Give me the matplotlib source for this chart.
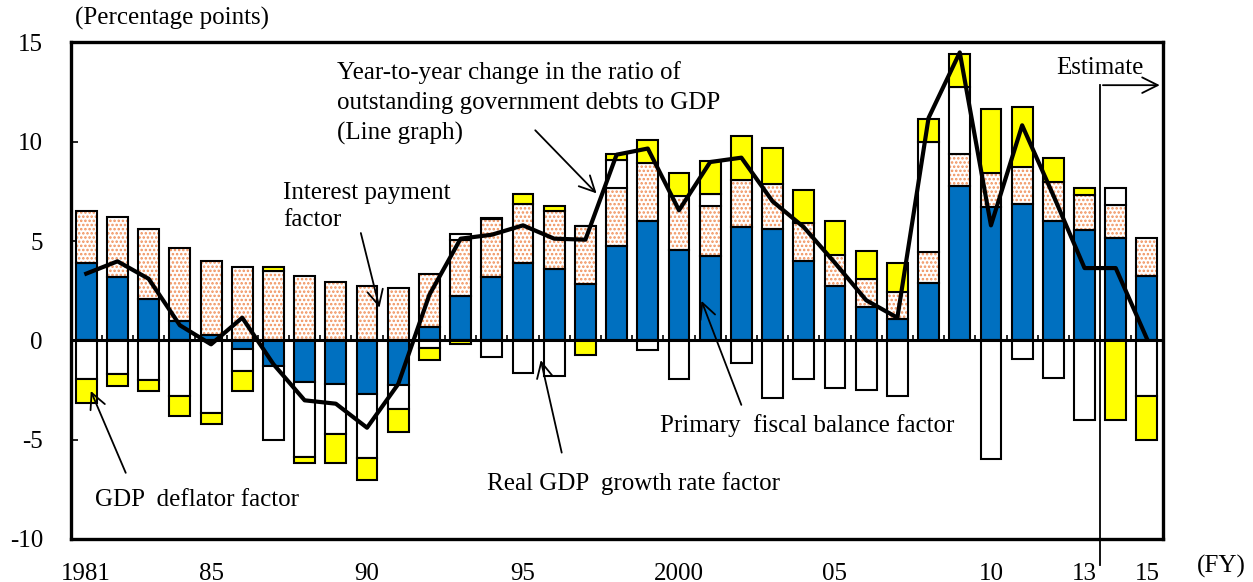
import numpy as np
import matplotlib
matplotlib.use("Agg")
import matplotlib.pyplot as plt

plt.rcParams['font.family'] = ['Liberation Serif', 'DejaVu Serif']
plt.rcParams['hatch.linewidth'] = 1.2
plt.rcParams['axes.unicode_minus'] = False

years = list(range(1981, 2016))
# primary fiscal balance factor (blue)
primary = [3.9, 3.2, 2.07, 0.97, 0.27, -0.45, -1.31, -2.1, -2.22, -2.69,
           -2.27, 0.67, 2.23, 3.19, 3.9, 3.58, 2.82, 4.74, 6.03, 4.57,
           4.27, 5.71, 5.63, 3.98, 2.72, 1.68, 1.09, 2.9, 7.77, 6.72,
           6.88, 6.01, 5.54, 5.15, 3.22]
# interest payment factor (dotted)
interest = [2.6, 3.0, 3.54, 3.68, 3.71, 3.69, 3.49, 3.22, 2.92, 2.72,
            2.64, 2.65, 2.81, 2.91, 2.99, 2.93, 2.92, 2.93, 2.9, 2.7,
            2.52, 2.35, 2.26, 1.93, 1.56, 1.43, 1.34, 1.55, 1.63, 1.73,
            1.85, 1.97, 1.76, 1.65, 1.93]
# real GDP growth rate factor (white)
real_gdp = [-1.93, -1.71, -2.02, -2.82, -3.66, -1.1, -3.69, -3.78, -2.52, -3.22,
            -1.21, -0.37, 0.3, -0.84, -1.63, -1.81, 0.0, 1.4, -0.47, -1.93,
            0.6, -1.12, -2.89, -1.93, -2.39, -2.48, -2.79, 5.54, 3.36, -5.96,
            -0.92, -1.9, -4.03, 0.87, -2.8]
# GDP deflator factor (yellow)
deflator = [-1.23, -0.57, -0.55, -1.01, -0.57, -1.02, 0.2, -0.28, -1.42, -1.11,
            -1.14, -0.63, -0.17, 0.08, 0.5, 0.28, -0.72, 0.33, 1.15, 1.16,
            1.63, 2.23, 1.81, 1.65, 1.73, 1.37, 1.47, 1.16, 1.68, 3.19,
            3.02, 1.22, 0.37, -4.03, -2.2]
# year-to-year change in debt/GDP ratio (line)
debt_change = [3.36, 3.98, 3.1, 0.76, -0.2, 1.14, -1.2, -3.02, -3.19, -4.4,
               -2.2, 2.3, 5.12, 5.32, 5.79, 5.12, 5.07, 9.35, 9.66, 6.55,
               8.98, 9.2, 7.0, 5.7, 3.9, 2.02, 1.14, 11.2, 14.5, 5.79,
               10.83, 7.3, 3.64, 3.64, 0.08]

tick_years = [1981, 1985, 1990, 1995, 2000, 2005, 2010, 2013, 2015]
tick_labels = ['1981', '85', '90', '95', '2000', '05', '10', '13', '15']

x = np.arange(len(years))
w = 0.67

fig = plt.figure(figsize=(12.53, 5.82), dpi=100)
ax = fig.add_axes([0.0564, 0.074, 0.8714, 0.853])

pos_bottom = np.zeros(len(years))
neg_bottom = np.zeros(len(years))
series = [(primary, '#0070C0', None), (interest, 'white', '....'),
          (real_gdp, 'white', None), (deflator, '#FFFF00', None)]
for vals, col, hatch in series:
    v = np.array(vals)
    bottom = np.where(v >= 0, pos_bottom, neg_bottom)
    if hatch:
        ax.bar(x, v, w, bottom=bottom, color='white', edgecolor='#F0905A',
               hatch=hatch, linewidth=0, zorder=2)
        ax.bar(x, v, w, bottom=bottom, facecolor='none', edgecolor='black',
               linewidth=1.5, zorder=3)
    else:
        ax.bar(x, v, w, bottom=bottom, color=col, edgecolor='black',
               linewidth=1.5, zorder=3)
    pos_bottom = pos_bottom + np.where(v >= 0, v, 0)
    neg_bottom = neg_bottom + np.where(v < 0, v, 0)

ax.axhline(0, color='black', lw=2.2, zorder=4)
ax.vlines(x[:-1] + 0.5, 0, 0.28, color='black', lw=1.2, zorder=4)
ax.plot(x, debt_change, color='black', lw=3, zorder=6)

fs = 18
ax.set_xlim(-0.5, len(years) - 0.5)
ax.set_ylim(-10, 15)
ax.set_yticks([-10, -5, 0, 5, 10, 15])
ax.tick_params(axis='y', direction='in', length=5, width=1.2, pad=20, labelsize=fs)
ax.set_xticks([years.index(t) for t in tick_years])
ax.set_xticklabels(tick_labels)
ax.tick_params(axis='x', length=0, pad=17, labelsize=fs)
for s in ax.spines.values():
    s.set_linewidth(2.4)

arrow = dict(arrowstyle='->', color='black', lw=1.3, mutation_scale=28)
ax.annotate('', xy=(16.42, 7.3), xytext=(14.33, 10.68), arrowprops=arrow, zorder=7)
ax.text(8.04, 11.95, 'Year-to-year change in the ratio of\noutstanding government debts to GDP\n(Line graph)',
        fontsize=fs, va='center', ha='left', linespacing=1.45)
ax.annotate('', xy=(9.42, 1.51), xytext=(8.78, 5.54), arrowprops=arrow, zorder=7)
ax.text(6.3, 6.75, 'Interest payment\nfactor', fontsize=fs, va='center', ha='left', linespacing=1.3)
ax.annotate('', xy=(0.11, -2.42), xytext=(1.3, -6.8), arrowprops=arrow, zorder=7)
ax.text(0.27, -8.06, 'GDP  deflator factor', fontsize=fs, va='center', ha='left')
ax.annotate('', xy=(14.55, -0.86), xytext=(15.26, -5.79), arrowprops=arrow, zorder=7)
ax.text(12.85, -7.2, 'Real GDP  growth rate factor', fontsize=fs, va='center', ha='left')
ax.annotate('', xy=(19.69, 2.12), xytext=(21.03, -3.38), arrowprops=arrow, zorder=7)
ax.text(18.4, -4.28, 'Primary  fiscal balance factor', fontsize=fs, va='center', ha='left')

# estimate bracket
ax.plot([32.5, 32.5], [-11.3, 12.85], color='black', lw=1.3, clip_on=False, zorder=7)
ax.annotate('', xy=(34.5, 12.85), xytext=(32.5, 12.85), arrowprops=arrow, zorder=7)
ax.text(31.08, 13.7, 'Estimate', fontsize=fs, va='center', ha='left')

fig.text(75 / 1253, 1 - 18 / 582, '(Percentage points)', fontsize=fs, va='center', ha='left')
fig.text(1197 / 1253, 1 - 566 / 582, '(FY)', fontsize=fs, va='center', ha='left')

fig.savefig('out.png', dpi=100)
